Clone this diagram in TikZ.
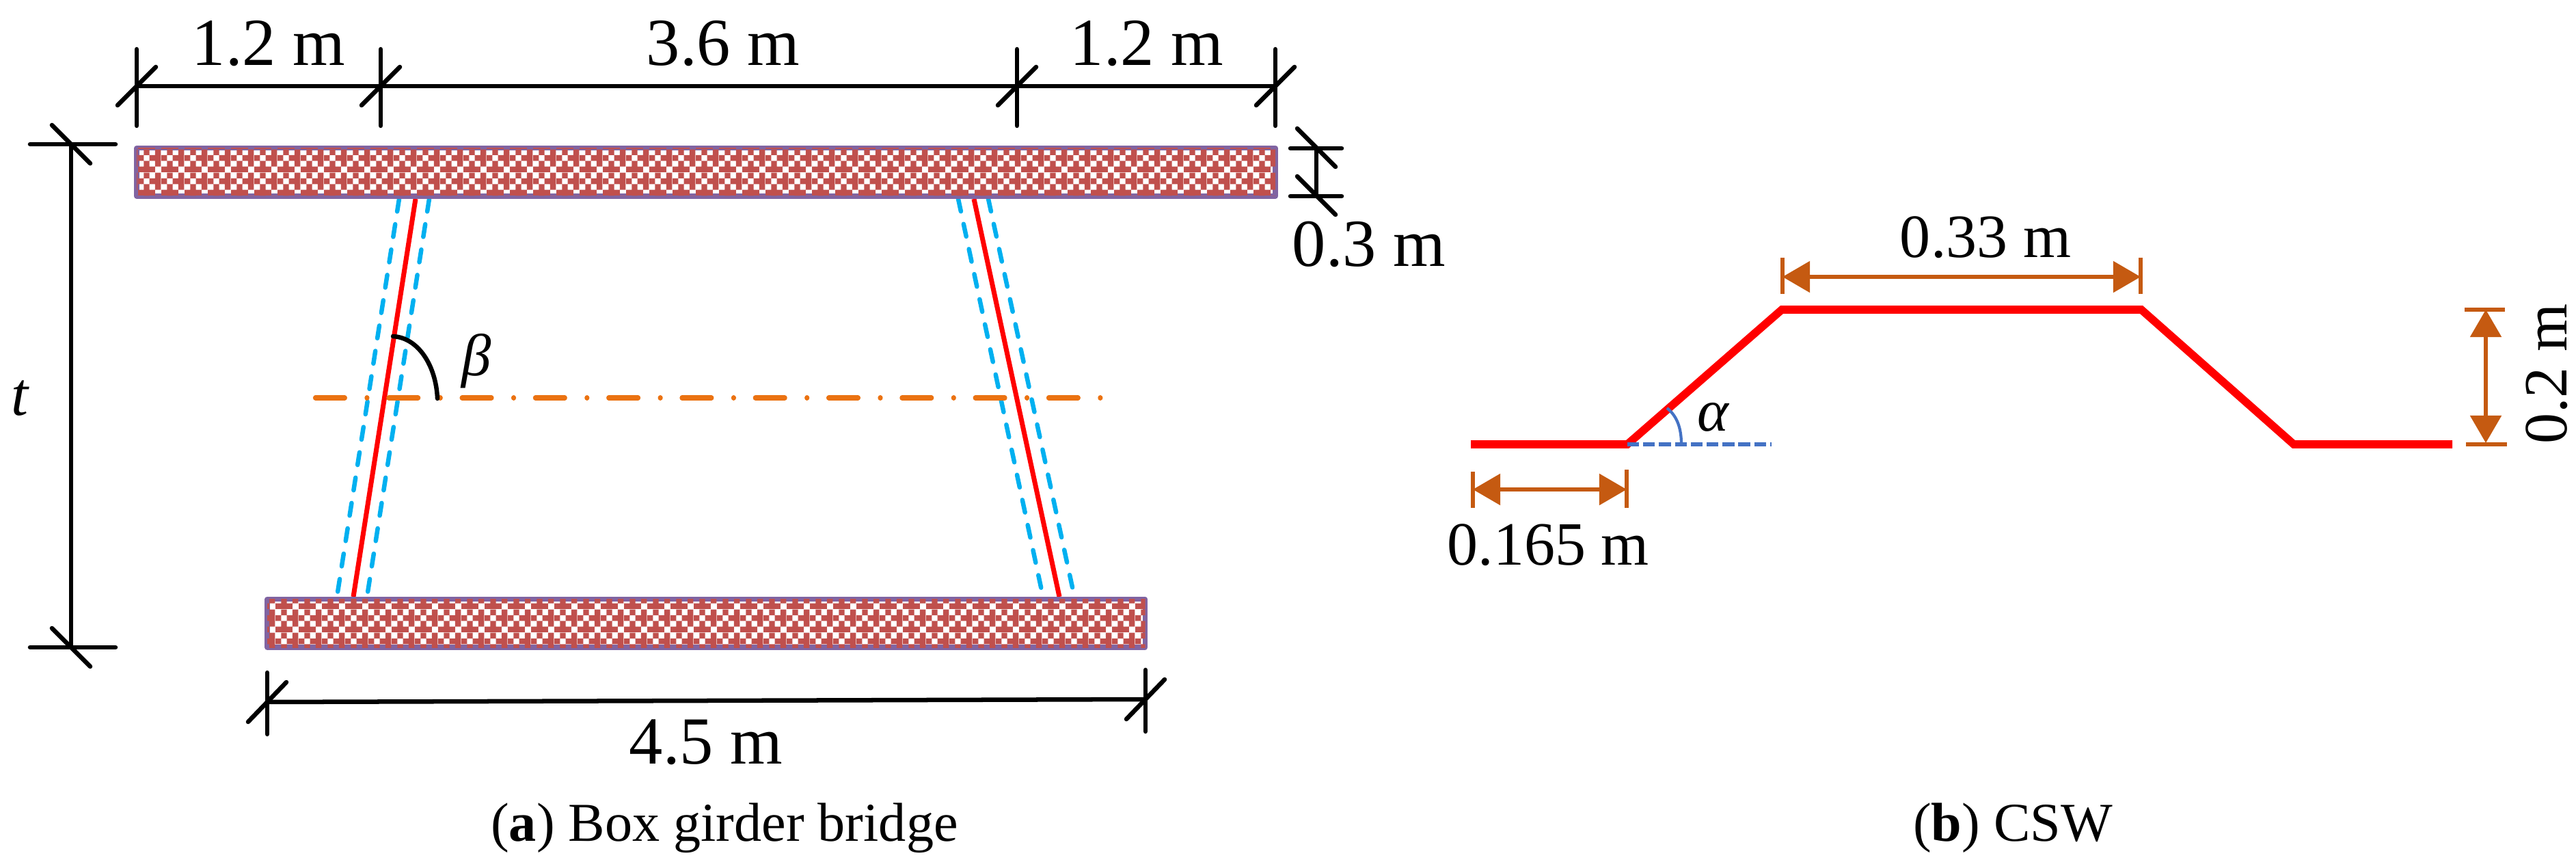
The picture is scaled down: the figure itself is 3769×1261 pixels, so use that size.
\documentclass[tikz,border=0pt]{standalone}
\usepackage{fontspec}
\setmainfont{Liberation Serif}
\usetikzlibrary{arrows.meta,patterns}
\definecolor{brickc}{HTML}{C0504D}
\definecolor{flangeb}{HTML}{8064A2}
\definecolor{webblue}{HTML}{00B0F0}
\definecolor{axisor}{HTML}{EB7211}
\definecolor{dimor}{HTML}{C55A11}
\definecolor{angblue}{HTML}{4472C4}
\newdimen\cellsz \cellsz=2.39pt
\newcommand\ckcell[2]{\pgfpathrectangle{\pgfqpoint{#1\cellsz}{#2\cellsz}}{\pgfqpoint{\cellsz}{\cellsz}}}
\pgfdeclarepatternformonly{crossck}{\pgfqpoint{0pt}{0pt}}{\pgfqpoint{9.56pt}{9.56pt}}{\pgfqpoint{9.56pt}{9.56pt}}{%
  \ckcell{0}{0}\ckcell{1}{0}\ckcell{2}{0}%
  \ckcell{1}{1}\ckcell{3}{1}%
  \ckcell{0}{2}\ckcell{2}{2}\ckcell{3}{2}%
  \ckcell{1}{3}\ckcell{3}{3}%
  \pgfusepath{fill}}
\tikzset{
  x=0.01cm,y=-0.01cm,
  flange/.style={draw=flangeb,line width=2.1pt,line join=round,fill=white,postaction={pattern=crossck,pattern color=brickc}},
  webred/.style={draw=red,line width=2pt},
  webdash/.style={draw=webblue,line width=1.85pt,line cap=round,dash pattern=on 5.3pt off 5.37pt},
  axisline/.style={draw=axisor,line width=2.05pt,line cap=round,dash pattern=on 12.2pt off 9.25pt on 0.01pt off 9.05pt},
  dimk/.style={draw=black,line width=1.85pt,line cap=round},
  csw/.style={draw=red,line width=3.3pt,line join=miter},
  dimo/.style={draw=dimor,line width=1.6pt},
  dimarrow/.style={dimo,{Triangle[length=11.4pt,width=12.8pt,fill=dimor]}-{Triangle[length=11.4pt,width=12.8pt,fill=dimor]}},
  lab/.style={inner sep=0pt,outer sep=0pt,anchor=base,font=\fontsize{28pt}{30pt}\selectfont},
  labs/.style={inner sep=0pt,outer sep=0pt,anchor=base,font=\fontsize{25.6pt}{28pt}\selectfont},
  captext/.style={inner sep=0pt,outer sep=0pt,anchor=base,font=\fontsize{22.8pt}{26pt}\selectfont},
  vtick/.pic={\draw[dimk] (0,-54)--(0,58); \draw[dimk] (-28,28)--(28,-28);},
  btick/.pic={\draw[dimk] (0,-43)--(0,47); \draw[dimk] (-28,29)--(28,-29);},
  htick/.pic={\draw[dimk] (-60,0)--(65,0); \draw[dimk] (-28,-28)--(28,28);},
  stick/.pic={\draw[dimk] (-38,0)--(37,0); \draw[dimk] (-28,-29)--(28,27);}
}
\begin{document}
\begin{tikzpicture}
\useasboundingbox (0,0) rectangle (3769,1261);
% webs
\coordinate (lwt) at (608,291); \coordinate (lwb) at (517,873);
\coordinate (rwt) at (1425,291); \coordinate (rwb) at (1550,873);
\draw[webdash] (584,291)--(493,873);
\draw[webdash] (628,291)--(537,873);
\draw[webdash] (1402,291)--(1526,873);
\draw[webdash] (1446,291)--(1572,873);
\draw[webred] (lwt)--(lwb);
\draw[webred] (rwt)--(rwb);
% flanges
\path[flange] (200,216.7) rectangle (1866,287);
\path[flange] (391,876.7) rectangle (1675.5,947);
% axis and beta
\coordinate (axl) at (461.5,582); \coordinate (axr) at (1611,582);
\draw[axisline] (axl)--(axr);
\coordinate (ba) at (575,492); \coordinate (bb) at (640,583);
\draw[dimk] (ba) .. controls (612,494) and (638,535) .. (bb);
\node[lab,anchor=center,font=\fontsize{24.7pt}{28pt}\itshape] (beta) at (697,528) {β};
% top dims
\coordinate (d1) at (200,126); \coordinate (d2) at (557,126); \coordinate (d3) at (1488,126); \coordinate (d4) at (1866,126);
\draw[dimk] (d1)--(d4);
\foreach \p in {d1,d2,d3,d4} \pic at (\p) {vtick};
\node[lab] (l1) at (393,96) {1.2 m};
\node[lab] (l2) at (1058,96) {3.6 m};
\node[lab] (l3) at (1678,96) {1.2 m};
% right thickness
\coordinate (s1) at (1926,217); \coordinate (s2) at (1926,287);
\draw[dimk] (s1)--(s2);
\pic at (s1) {stick}; \pic at (s2) {stick};
\node[lab] (l03) at (2003,390) {0.3 m};
% left height
\coordinate (t1) at (104,211); \coordinate (t2) at (104,947);
\draw[dimk] (t1)--(t2);
\pic at (t1) {htick}; \pic at (t2) {htick};
\node[lab,font=\fontsize{25.6pt}{30pt}\itshape] (lt) at (29,607) {t};
% bottom dim
\coordinate (b1) at (391,1027); \coordinate (b2) at (1676,1023);
\draw[dimk] (b1)--(b2);
\pic at (b1) {btick}; \pic at (b2) {btick};
\node[lab] (l45) at (1033,1117) {4.5 m};
% CSW
\coordinate (c1) at (2152,650); \coordinate (c2) at (2381,650); \coordinate (c3) at (2607,453);
\coordinate (c4) at (3133,453); \coordinate (c5) at (3356,650); \coordinate (c6) at (3588,650);
\draw[csw] (c1)--(c2)--(c3)--(c4)--(c5)--(c6);
\coordinate (ae) at (2592,650);
\draw[draw=angblue,line width=1.7pt,dash pattern=on 4.9pt off 1.7pt] (c2)--(ae);
\coordinate (aa) at (2439,597); \coordinate (ab) at (2460,650);
\draw[draw=angblue,line width=1.2pt] (aa) .. controls (2453,608) and (2460,625) .. (ab);
\node[lab,anchor=center,font=\fontsize{24.8pt}{28pt}\itshape] (alpha) at (2506,610) {α};
% orange dims
\coordinate (e1) at (2155,716); \coordinate (e2) at (2380,716);
\draw[dimo] (2155,690)--(2155,743); \draw[dimo] (2380,687)--(2380,743);
\draw[dimarrow] (e1)--(e2);
\node[labs] (l165) at (2265,826) {0.165 m};
\coordinate (f1) at (2608,405); \coordinate (f2) at (3132,405);
\draw[dimo] (2608,377)--(2608,430); \draw[dimo] (3132,377)--(3132,430);
\draw[dimarrow] (f1)--(f2);
\node[labs] (l33) at (2905,377) {0.33 m};
\coordinate (g1) at (3637,453); \coordinate (g2) at (3637,648);
\draw[dimo] (3606,453)--(3665,453); \draw[dimo] (3608,650)--(3668,650);
\draw[dimarrow] (g1)--(g2);
\node[labs,rotate=90] (l02) at (3755,547) {0.2 m};
% captions
\node[captext] (ca) at (1060,1230) {(\textbf{a}) Box girder bridge};
\node[captext] (cb) at (2945,1230) {(\textbf{b}) CSW};
\end{tikzpicture}
\end{document}
